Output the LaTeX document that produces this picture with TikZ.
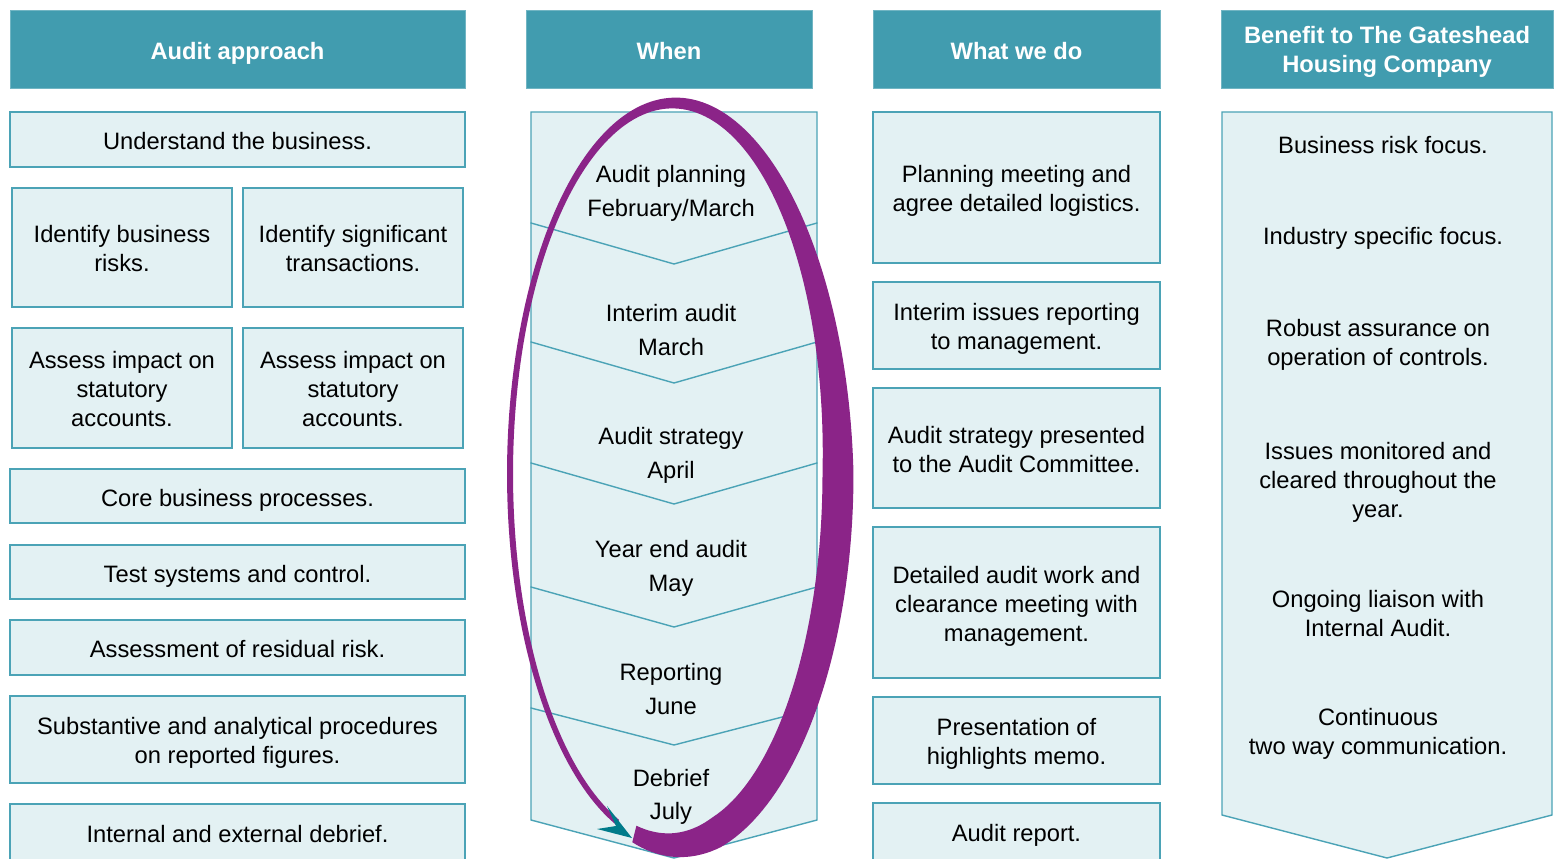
\documentclass[tikz,border=0pt]{standalone}
\usepackage{fontspec}
\setmainfont{Liberation Sans}

\definecolor{headteal}{RGB}{65,156,175}
\definecolor{cellfill}{RGB}{227,241,243}
\definecolor{cellline}{RGB}{75,163,182}
\definecolor{ringpurple}{RGB}{139,36,136}
\definecolor{tipteal}{RGB}{0,123,138}

\begin{document}
\begin{tikzpicture}[x=0.02cm, y=-0.02cm,
  boxstrut/.style={execute at begin node={\rule{0pt}{14.8pt}}, execute at end node={\rule[-3pt]{0pt}{3pt}}},
  freestrut/.style={execute at begin node={\rule{0pt}{12.7pt}}, execute at end node={\rule[-3pt]{0pt}{3pt}}},
  textdrop/.style={execute at begin node={\rule{0pt}{#1}}},
  head/.style={draw=headteal!75!white, fill=headteal, text=white, align=center, inner sep=0pt,
    minimum height=1.56cm, font=\fontsize{13.5}{16.4}\selectfont\bfseries, boxstrut},
  cell/.style={draw=cellline, fill=cellfill, line width=0.8pt, align=center, inner sep=0pt,
    font=\fontsize{13.5}{16.4}\selectfont, boxstrut},
  twoline/.style={cell, textdrop=30.5pt},
  threeline/.style={cell, textdrop=46.9pt},
  txt/.style={align=center, font=\fontsize{13.5}{16.4}\selectfont, freestrut},
  when/.style={align=center, font=\fontsize{13.5}{19.3}\selectfont, freestrut, textdrop=32pt},
  declare function={ringw(\t)=6+25*min(1,max(0,(\t+160)/160)^2)-14*max(0,(\t-75)/29);}
]
\useasboundingbox (0,0) rectangle (1557,858);
\clip (0,0) rectangle (1557,858);

% column headers
\node[head, minimum width=9.1cm]  (hApproach) at (237.5,49) {Audit approach};
\node[head, minimum width=5.72cm] (hWhen)     at (669,49)   {When};
\node[head, minimum width=5.74cm] (hDo)       at (1016.5,49) {What we do};
\node[head, minimum width=6.64cm, textdrop=29.7pt] (hBenefit) at (1387,49) {Benefit to The Gateshead\\Housing Company};

% audit approach
\node[cell, minimum width=9.1cm, minimum height=1.1cm]       (understand)   at (237.5,139.5) {Understand the business.};
\node[twoline, minimum width=4.4cm, minimum height=2.38cm]   (risks)        at (122,247.5) {Identify business\\risks.};
\node[twoline, minimum width=4.4cm, minimum height=2.38cm]   (transactions) at (353,247.5) {Identify significant\\transactions.};
\node[threeline, minimum width=4.4cm, minimum height=2.4cm]  (impactA)      at (122,388) {Assess impact on\\statutory\\accounts.};
\node[threeline, minimum width=4.4cm, minimum height=2.4cm]  (impactB)      at (353,388) {Assess impact on\\statutory\\accounts.};
\node[cell, minimum width=9.1cm, minimum height=1.08cm]      (processes)    at (237.5,496) {Core business processes.};
\node[cell, minimum width=9.1cm, minimum height=1.08cm]      (controls)     at (237.5,572) {Test systems and control.};
\node[cell, minimum width=9.1cm, minimum height=1.1cm]       (residual)     at (237.5,647.5) {Assessment of residual risk.};
\node[twoline, minimum width=9.1cm, minimum height=1.74cm]   (substantive)  at (237.5,739.5) {Substantive and analytical procedures\\on reported figures.};
\node[cell, minimum width=9.1cm, minimum height=1.12cm]      (debrief)      at (237.5,832) {Internal and external debrief.};

% when: stacked chevrons, last one first
\foreach \top/\side/\tip in {708/820/858, 587/708/745, 463/587/627, 342/463/504, 223/342/383, 112/223/264}
  \draw[cell] (531,\top) -- (817,\top) -- (817,\side) -- (674,\tip) -- (531,\side) -- cycle;

% cycle ring with tapering stroke
\fill[ringpurple]
  plot[domain=104:-250, samples=220] ({674+(164+ringw(\x)/2)*cos(\x)},{474+(371+ringw(\x)/2)*sin(\x)})
  -- plot[domain=-250:104, samples=220] ({674+(164-ringw(\x)/2)*cos(\x)},{474+(371-ringw(\x)/2)*sin(\x)})
  -- cycle;
\fill[tipteal] (632,838) -- (597,829) -- (616,826) -- (607,806) -- cycle;

\node[when] (planning) at (671,191)   {Audit planning\\February/March};
\node[when] (interim)  at (671,330)   {Interim audit\\March};
\node[when] (strategy) at (671,453)   {Audit strategy\\April};
\node[when] (yearend)  at (671,566)   {Year end audit\\May};
\node[when] (reporting) at (671,689)  {Reporting\\June};
\node[when] (debriefWhen) at (671,794.5) {Debrief\\July};

% what we do
\node[twoline, minimum width=5.74cm, minimum height=3.02cm]   (meeting)   at (1016.5,187.5) {Planning meeting and\\agree detailed logistics.};
\node[twoline, minimum width=5.74cm, minimum height=1.74cm]   (issues)    at (1016.5,325.5) {Interim issues reporting\\to management.};
\node[twoline, minimum width=5.74cm, minimum height=2.4cm]    (presented) at (1016.5,448) {Audit strategy presented\\to the Audit Committee.};
\node[threeline, minimum width=5.74cm, minimum height=3.02cm] (detailed)  at (1016.5,602.5) {Detailed audit work and\\clearance meeting with\\management.};
\node[twoline, minimum width=5.74cm, minimum height=1.74cm]   (memo)      at (1016.5,740.5) {Presentation of\\highlights memo.};
\node[cell, minimum width=5.74cm, minimum height=1.14cm]      (report)    at (1016.5,831.5) {Audit report.};

% benefit column
\draw[cell] (1222,112) -- (1552,112) -- (1552,815) -- (1387,858) -- (1222,815) -- cycle;
\node[txt] (riskFocus)   at (1383,145)   {Business risk focus.};
\node[txt] (industry)    at (1383,236)   {Industry specific focus.};
\node[txt, textdrop=29.1pt] (assurance)  at (1378,342.5) {Robust assurance on\\operation of controls.};
\node[txt, textdrop=45.5pt] (monitored)  at (1378,480)   {Issues monitored and\\cleared throughout the\\year.};
\node[txt, textdrop=29.1pt] (liaison)    at (1378,613.5) {Ongoing liaison with\\Internal Audit.};
\node[txt, textdrop=29.1pt] (continuous) at (1378,731.5) {Continuous\\two way communication.};

\end{tikzpicture}
\end{document}
